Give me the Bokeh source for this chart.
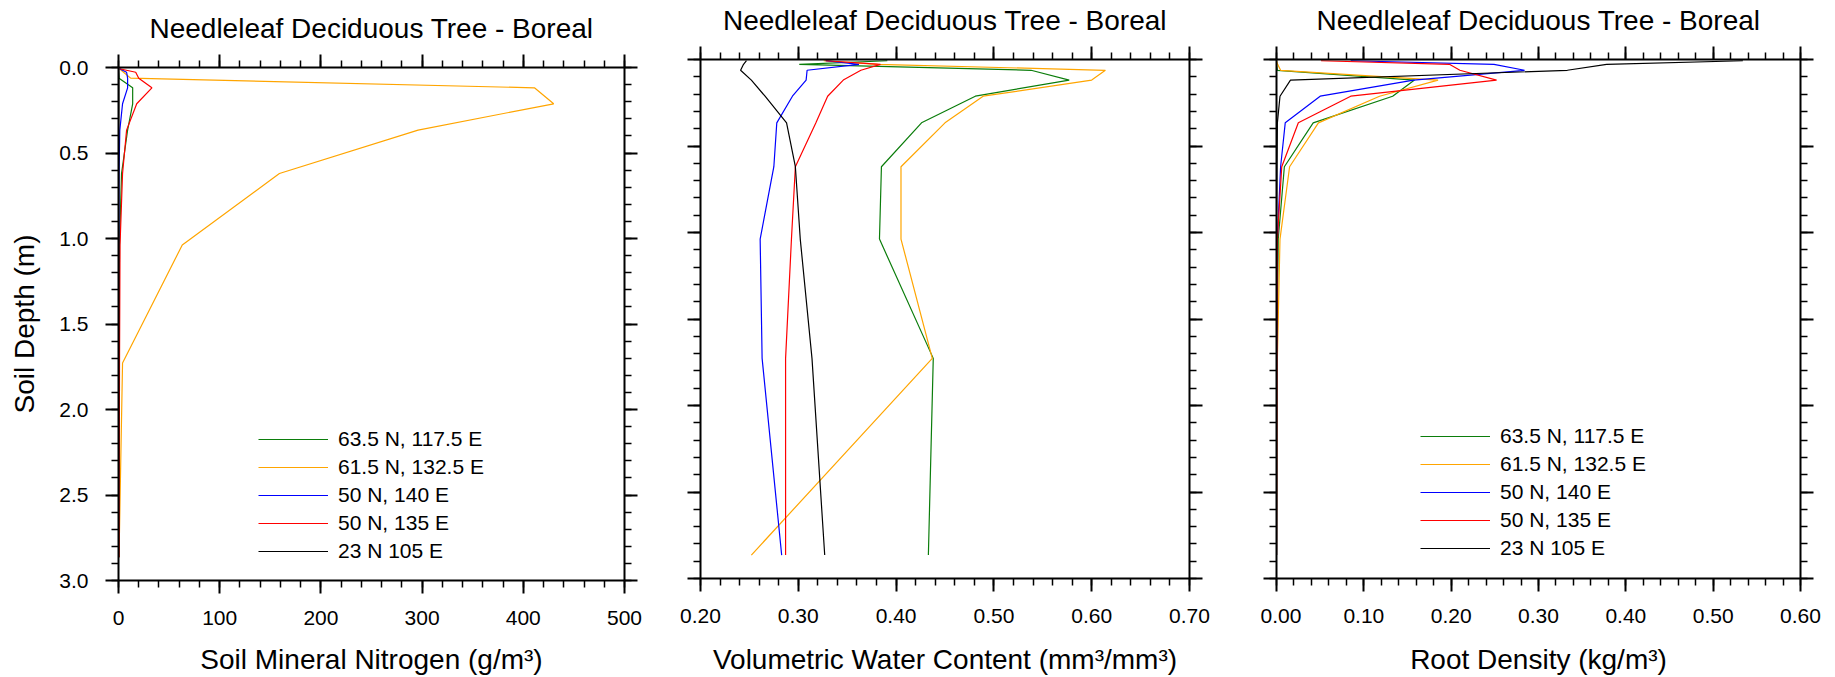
import numpy as np
from bokeh.layouts import row
from bokeh.plotting import figure
from bokeh.models import (Range1d, FixedTicker, LinearAxis, NumeralTickFormatter,
                          CustomJSTickFormatter, Legend, LegendItem)
from bokeh.embed import file_html
from bokeh.resources import INLINE

# ---------------- data ----------------
depth = [0.0071, 0.0279, 0.0623, 0.1189, 0.2122, 0.3661, 0.6198, 1.0380, 1.7276, 2.8646]
sites = ["63.5 N, 117.5 E", "61.5 N, 132.5 E", "50 N, 140 E", "50 N, 135 E", "23 N 105 E"]
colors = ["#0b7d0b", "#ffa500", "#0000ff", "#ff0000", "#000000"]

nitrogen_green = [0.0, 0.0, 0.5, 14.0, 14.0, 9.0, 3.0, 1.0, 0.5, 0.2]
nitrogen_orange = [1.0, 5.0, 12.0, 411.0, 430.0, 296.0, 159.0, 63.0, 4.0, 0.5]
nitrogen_blue = [1.0, 8.0, 9.0, 9.0, 4.0, 1.3, 0.5, 0.3, 0.2, 0.1]
nitrogen_red = [1.0, 17.0, 20.0, 33.0, 18.0, 8.0, 4.0, 1.5, 1.0, 0.5]
nitrogen_black = [0.2, 0.3, 0.3, 0.3, 0.3, 0.2, 0.2, 0.1, 0.1, 0.1]

water_green = [0.391, 0.301, 0.538, 0.577, 0.481, 0.426, 0.385, 0.383, 0.438, 0.433]
water_orange = [0.326, 0.381, 0.614, 0.600, 0.489, 0.450, 0.405, 0.405, 0.437, 0.252]
water_blue = [0.328, 0.362, 0.309, 0.308, 0.294, 0.278, 0.275, 0.261, 0.263, 0.283]
water_red = [0.328, 0.384, 0.364, 0.346, 0.330, 0.318, 0.297, 0.293, 0.287, 0.287]
water_black = [0.247, 0.244, 0.241, 0.252, 0.266, 0.288, 0.297, 0.302, 0.314, 0.327]

root_green = [0.0, 0.0, 0.001, 0.158, 0.133, 0.042, 0.009, 0.002, 0.0005, 0.0]
root_orange = [0.0, 0.0013, 0.0047, 0.185, 0.118, 0.048, 0.015, 0.004, 0.001, 0.0]
root_blue = [0.085, 0.249, 0.284, 0.157, 0.050, 0.010, 0.0047, 0.001, 0.0003, 0.0]
root_red = [0.051, 0.198, 0.210, 0.252, 0.085, 0.025, 0.006, 0.001, 0.0003, 0.0]
root_black = [0.534, 0.378, 0.333, 0.016, 0.004, 0.001, 0.0005, 0.0, 0.0, 0.0]

title_text = "Needleleaf Deciduous Tree - Boreal"
ylabel = "Soil Depth (m)"
y_ticks = [0.0, 0.5, 1.0, 1.5, 2.0, 2.5, 3.0]
x_ticks_nitrogen = [0, 100, 200, 300, 400, 500]
x_ticks_water = [0.2, 0.3, 0.4, 0.5, 0.6, 0.7]
x_ticks_root = [0.0, 0.1, 0.2, 0.3, 0.4, 0.5, 0.6]

FONT = "Liberation Sans"
BLANK = CustomJSTickFormatter(code="return ''")


def style_axis(ax, show_labels):
    ax.axis_line_width = 2
    ax.axis_line_color = "black"
    ax.major_tick_line_width = 2
    ax.minor_tick_line_width = 1.5
    ax.major_tick_out = 13
    ax.major_tick_in = 0
    ax.minor_tick_out = 7
    ax.minor_tick_in = 0
    ax.major_label_text_font = FONT
    ax.major_label_text_color = "black"
    ax.major_label_text_font_size = "21px"
    if not show_labels:
        ax.formatter = BLANK
        ax.major_label_standoff = 0
    ax.axis_label_text_font = FONT
    ax.axis_label_text_font_size = "28px"
    ax.axis_label_text_font_style = "normal"
    ax.axis_label_text_color = "black"


def make_panel(width, bl, br, bt, bb, xr, xticks, xminor, xfmt, xlabel, top_gap,
               xlab_standoff, series, show_ylab, legend_loc):
    p = figure(width=width, height=677, x_range=Range1d(*xr), y_range=Range1d(3.0, 0.0),
               output_backend="svg", toolbar_location=None,
               min_border_left=bl, min_border_right=br, min_border_top=bt, min_border_bottom=bb,
               x_axis_location=None, y_axis_location=None, title=title_text)
    p.frame_align = False
    p.outline_line_color = None
    p.grid.visible = False
    p.title.text_font = FONT
    p.title.text_font_size = "28px"
    p.title.text_font_style = "normal"
    p.title.text_color = "black"
    p.title.align = "center"
    p.title.vertical_align = "top"
    p.title.standoff = 0

    yt = FixedTicker(ticks=y_ticks, minor_ticks=list(np.round(np.arange(0, 3.01, 0.1), 2)))
    xt = FixedTicker(ticks=xticks, minor_ticks=xminor)

    bottom = LinearAxis(ticker=xt, formatter=NumeralTickFormatter(format=xfmt), axis_label=xlabel)
    style_axis(bottom, True)
    bottom.major_label_standoff = 17
    bottom.axis_label_standoff = xlab_standoff
    p.add_layout(bottom, "below")

    top = LinearAxis(ticker=xt)
    style_axis(top, False)
    p.add_layout(top, "above")

    # invisible spacer between the top axis and the title (one hidden tick)
    spacer = LinearAxis(ticker=FixedTicker(ticks=[xr[0]], minor_ticks=[]), formatter=BLANK,
                        axis_line_color=None,
                        major_tick_line_color=None, minor_tick_line_color=None,
                        major_tick_out=top_gap, major_tick_in=0, minor_tick_out=0,
                        minor_tick_in=0, major_label_standoff=0,
                        major_label_text_font=FONT, major_label_text_font_size="21px")
    p.add_layout(spacer, "above")

    left = LinearAxis(ticker=yt, formatter=NumeralTickFormatter(format="0.0"),
                      axis_label=ylabel if show_ylab else None)
    style_axis(left, show_ylab)
    if show_ylab:
        left.major_label_standoff = 17
        left.axis_label_standoff = 16
    p.add_layout(left, "left")

    right = LinearAxis(ticker=yt)
    style_axis(right, False)
    p.add_layout(right, "right")

    rends = []
    for vals, c in zip(series, colors):
        r = p.line(vals, depth, line_color=c, line_width=1.2)
        rends.append(r)

    if legend_loc is not None:
        items = [LegendItem(label=s, renderers=[r]) for s, r in zip(sites, rends)]
        lg = Legend(items=items, location=legend_loc)
        lg.border_line_color = None
        lg.background_fill_alpha = 0
        lg.padding = 0
        lg.margin = 0
        lg.spacing = 0
        lg.glyph_width = 70
        lg.glyph_height = 28
        lg.label_height = 28
        lg.label_standoff = 10
        lg.label_text_font = FONT
        lg.label_text_font_size = "21px"
        lg.label_text_color = "black"
        p.add_layout(lg)
    return p


x_minor_nitrogen = list(range(0, 501, 20))
x_minor_water = list(np.round(np.arange(0.2, 0.7001, 0.02), 2))
x_minor_root = list(np.round(np.arange(0.0, 0.6001, 0.02), 2))

p1 = make_panel(666, 118, 42, 67, 97, (0, 500), x_ticks_nitrogen, x_minor_nitrogen, "0",
                "Soil Mineral Nitrogen (g/m³)", 9, 16,
                [nitrogen_green, nitrogen_orange, nitrogen_blue, nitrogen_red, nitrogen_black],
                True, (140, 15))
p2 = make_panel(594, 34, 71, 59, 99, (0.2, 0.7), x_ticks_water, x_minor_water, "0.00",
                "Volumetric Water Content (mm³/mm³)", 9, 18,
                [water_green, water_orange, water_blue, water_red, water_black],
                False, None)
p3 = make_panel(575, 16, 35, 59, 99, (0.0, 0.6), x_ticks_root, x_minor_root, "0.00",
                "Root Density (kg/m³)", 9, 18,
                [root_green, root_orange, root_blue, root_red, root_black],
                False, (144, 16))

layout = row(p1, p2, p3, spacing=0)
open("out.html", "w").write(file_html(layout, INLINE))
